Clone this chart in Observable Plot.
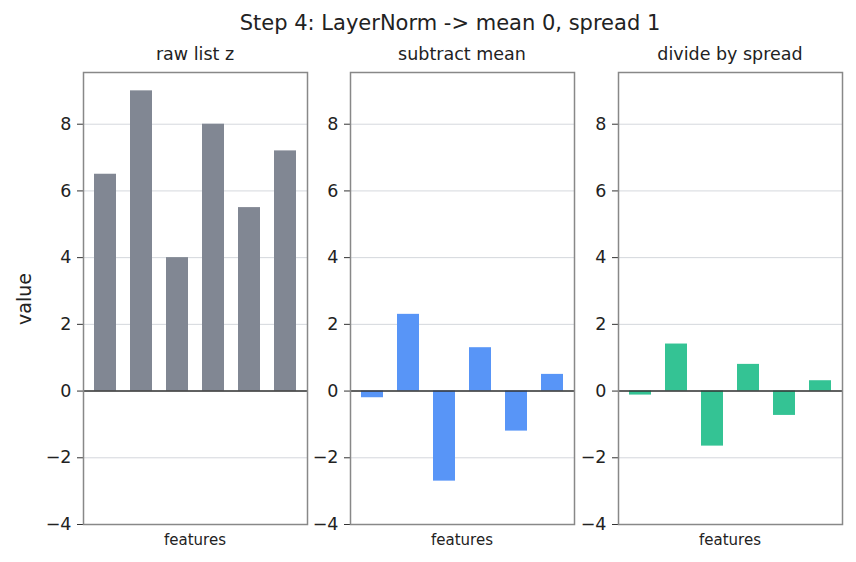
<!DOCTYPE html>
<html>
<head>
<meta charset="utf-8">
<script src="https://cdn.jsdelivr.net/npm/d3@7"></script>
<script src="https://cdn.jsdelivr.net/npm/@observablehq/plot@0.6"></script>
<style>
  html, body { margin: 0; padding: 0; background: #fff; }
  #fig { position: relative; width: 856px; height: 562px; font-family: "DejaVu Sans", sans-serif; color: #222; overflow: hidden; }
  .txt { position: absolute; white-space: nowrap; transform: translate(-50%, -50%); line-height: 1; }
  .panel { position: absolute; }
</style>
</head>
<body>
<div id="fig"></div>
<script>
// Six features of one token, before and after each LayerNorm step
const features = ["f1", "f2", "f3", "f4", "f5", "f6"];
const rawValues = [6.5, 9.0, 4.0, 8.0, 5.5, 7.2];
const centeredValues = [-0.2, 2.3, -2.7, 1.3, -1.2, 0.5];
const scaledValues = [-0.12, 1.41, -1.65, 0.8, -0.73, 0.31];
const yTicks = [-4, -2, 0, 2, 4, 6, 8];
const panelTitles = ["raw list z", "subtract mean", "divide by spread"];
const panelColors = ["#818793", "#5895f7", "#34c394"];
const figTitle = "Step 4: LayerNorm -> mean 0, spread 1";

const series = [rawValues, centeredValues, scaledValues];
const fig = document.getElementById("fig");

// plot-area geometry of each panel
const plotLefts = [83, 350, 618];
const plotW = 224, plotTop = 72, plotH = 452;
const mL = 50, mR = 4, mT = 12, mB = 12;

function addText(str, x, y, size, extra) {
  const d = document.createElement("div");
  d.className = "txt";
  d.textContent = str;
  d.style.left = x + "px";
  d.style.top = y + "px";
  d.style.fontSize = size + "px";
  if (extra) Object.assign(d.style, extra);
  fig.appendChild(d);
  return d;
}

addText(figTitle, 450, 23, 21);

series.forEach((vals, i) => {
  const data = features.map((f, k) => ({feature: f, value: vals[k]}));
  const chart = Plot.plot({
    width: plotW + mL + mR,
    height: plotH + mT + mB,
    marginLeft: mL, marginRight: mR, marginTop: mT, marginBottom: mB,
    style: {fontFamily: "DejaVu Sans, sans-serif", fontSize: "17.5px", color: "#222", background: "transparent", overflow: "visible"},
    x: {domain: features, paddingInner: 0.4, paddingOuter: 0.28, axis: null},
    y: {domain: [-4, 9.55], axis: null},
    marks: [
      Plot.ruleY(yTicks.filter(t => t > -4), {stroke: "#cfd3d8", strokeWidth: 0.9}),
      Plot.barY(data, {x: "feature", y: "value", fill: panelColors[i]}),
      Plot.ruleY([0], {stroke: "#333", strokeWidth: 1.5}),
      Plot.axisY({ticks: yTicks, tickSize: 6, tickPadding: 6, stroke: "#333",
        tickFormat: d => d < 0 ? "\u2212" + Math.abs(d) : String(d), label: null}),
      Plot.frame({stroke: "#888", strokeWidth: 1.5})
    ]
  });
  const wrap = document.createElement("div");
  wrap.className = "panel";
  wrap.style.left = (plotLefts[i] - mL) + "px";
  wrap.style.top = (plotTop - mT) + "px";
  wrap.appendChild(chart);
  fig.appendChild(wrap);

  const cx = plotLefts[i] + plotW / 2;
  addText(panelTitles[i], cx, 55, 17.5);
  addText("features", cx, 540, 15);
});

// shared y label
addText("value", 24, 299, 19, {transform: "translate(-50%, -50%) rotate(-90deg)"});
</script>
</body>
</html>
